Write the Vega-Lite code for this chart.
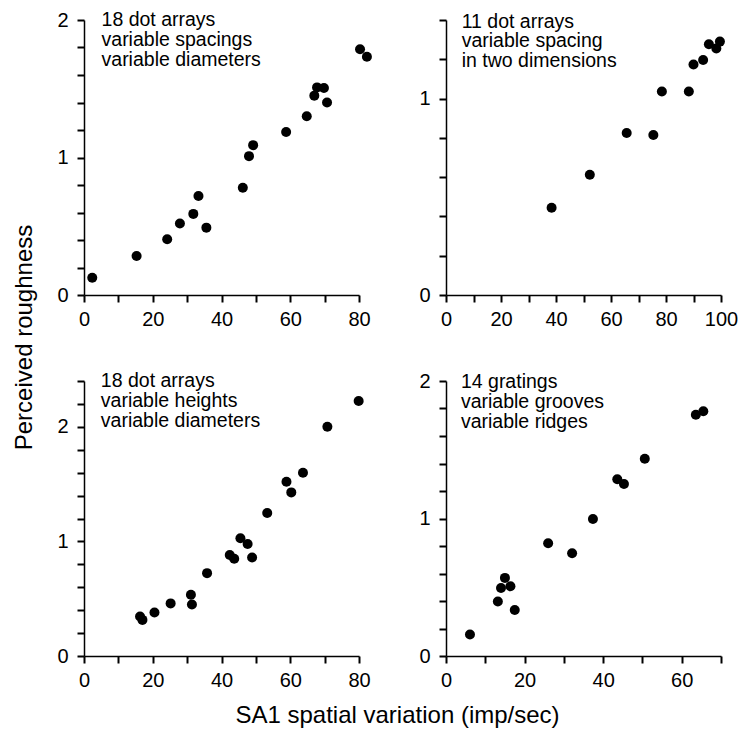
{
  "$schema": "https://vega.github.io/schema/vega-lite/v6.json",
  "background": "white",
  "padding": {"left": 12, "top": 10, "right": 5, "bottom": 5},
  "config": {
    "view": {"stroke": null},
    "font": "Liberation Sans",
    "axis": {
      "domainColor": "black", "domainWidth": 1.5, "ticks": true, "tickColor": "#000000", "tickOpacity": 1, "tickWidth": 2, "tickSize": 7, "zindex": 1,
      "labelFont": "Liberation Sans", "labelFontSize": 20, "labelColor": "black",
      "grid": false, "labelOverlap": false, "labelFlush": false, "labelPadding": 7,
      "titleFont": "Liberation Sans", "titleFontSize": 24, "titleFontWeight": "normal", "titleColor": "black"
    },
    "axisY": {"labelPadding": 9}
  },
  "datasets": {
    "pts": [
      {"panel": 1, "x": 2.4, "y": 0.126}, {"panel": 1, "x": 15.3, "y": 0.284}, {"panel": 1, "x": 24.2, "y": 0.405},
      {"panel": 1, "x": 27.9, "y": 0.52}, {"panel": 1, "x": 31.8, "y": 0.59}, {"panel": 1, "x": 33.3, "y": 0.72},
      {"panel": 1, "x": 35.6, "y": 0.49}, {"panel": 1, "x": 46.2, "y": 0.78}, {"panel": 1, "x": 48.0, "y": 1.01},
      {"panel": 1, "x": 49.2, "y": 1.09}, {"panel": 1, "x": 58.8, "y": 1.185}, {"panel": 1, "x": 64.8, "y": 1.3},
      {"panel": 1, "x": 67.0, "y": 1.45}, {"panel": 1, "x": 67.8, "y": 1.51}, {"panel": 1, "x": 69.8, "y": 1.505},
      {"panel": 1, "x": 70.7, "y": 1.4}, {"panel": 1, "x": 80.3, "y": 1.787}, {"panel": 1, "x": 82.3, "y": 1.733},
      {"panel": 2, "x": 38.4, "y": 0.444}, {"panel": 2, "x": 52.3, "y": 0.612}, {"panel": 2, "x": 65.7, "y": 0.825},
      {"panel": 2, "x": 75.4, "y": 0.815}, {"panel": 2, "x": 78.5, "y": 1.036}, {"panel": 2, "x": 88.3, "y": 1.036},
      {"panel": 2, "x": 90.0, "y": 1.173}, {"panel": 2, "x": 93.5, "y": 1.196}, {"panel": 2, "x": 95.6, "y": 1.277},
      {"panel": 2, "x": 98.3, "y": 1.255}, {"panel": 2, "x": 99.6, "y": 1.29},
      {"panel": 3, "x": 16.3, "y": 0.345}, {"panel": 3, "x": 17.0, "y": 0.315}, {"panel": 3, "x": 20.5, "y": 0.38},
      {"panel": 3, "x": 25.2, "y": 0.459}, {"panel": 3, "x": 31.1, "y": 0.534}, {"panel": 3, "x": 31.4, "y": 0.45},
      {"panel": 3, "x": 35.8, "y": 0.723}, {"panel": 3, "x": 42.4, "y": 0.882}, {"panel": 3, "x": 43.7, "y": 0.848},
      {"panel": 3, "x": 45.5, "y": 1.028}, {"panel": 3, "x": 47.6, "y": 0.978}, {"panel": 3, "x": 48.9, "y": 0.859},
      {"panel": 3, "x": 53.3, "y": 1.248}, {"panel": 3, "x": 58.9, "y": 1.521}, {"panel": 3, "x": 60.3, "y": 1.428},
      {"panel": 3, "x": 63.7, "y": 1.599}, {"panel": 3, "x": 70.8, "y": 2.0}, {"panel": 3, "x": 79.9, "y": 2.226},
      {"panel": 4, "x": 6.1, "y": 0.157}, {"panel": 4, "x": 13.2, "y": 0.397}, {"panel": 4, "x": 14.0, "y": 0.494},
      {"panel": 4, "x": 15.0, "y": 0.568}, {"panel": 4, "x": 16.4, "y": 0.507}, {"panel": 4, "x": 17.5, "y": 0.335},
      {"panel": 4, "x": 26.0, "y": 0.82}, {"panel": 4, "x": 32.1, "y": 0.747}, {"panel": 4, "x": 37.4, "y": 0.996},
      {"panel": 4, "x": 43.6, "y": 1.285}, {"panel": 4, "x": 45.3, "y": 1.251}, {"panel": 4, "x": 50.6, "y": 1.435},
      {"panel": 4, "x": 63.6, "y": 1.755}, {"panel": 4, "x": 65.5, "y": 1.78}
    ],
    "notes": [
      {"panel": 1, "x": 5.1, "y": 1.953, "label": "18 dot arrays\nvariable spacings\nvariable diameters"},
      {"panel": 2, "x": 5.7, "y": 1.361, "label": "11 dot arrays\nvariable spacing\nin two dimensions"},
      {"panel": 3, "x": 4.9, "y": 2.345, "label": "18 dot arrays\nvariable heights\nvariable diameters"},
      {"panel": 4, "x": 3.8, "y": 1.947, "label": "14 gratings\nvariable grooves\nvariable ridges"}
    ]
  },
  "columns": 2,
  "spacing": {"row": 86, "column": 87},
  "bounds": "flush",
  "concat": [
    {
      "width": 275, "height": 275,
      "resolve": {"axis": {"x": "independent", "y": "independent"}},
      "layer": [
        {
          "data": {"name": "pts"},
          "transform": [{"filter": "datum.panel == 1"}],
          "mark": {"type": "circle", "size": 100, "color": "black", "opacity": 1, "clip": false},
          "encoding": {
            "x": {"field": "x", "type": "quantitative", "scale": {"domain": [0, 80], "nice": false},
              "axis": {"title": null, "values": [0, 10, 20, 30, 40, 50, 60, 70, 80], "labelExpr": "datum.value % 20 === 0 ? '' + datum.value : ''",
                "ticks": true, "tickColor": "#000000", "tickWidth": 2, "tickSize": 7}},
            "y": {"field": "y", "type": "quantitative", "scale": {"domain": [0, 2], "nice": false},
              "axis": {"values": [0, 0.2, 0.4, 0.6, 0.8, 1, 1.2, 1.4, 1.6, 1.8, 2], "labelExpr": "datum.value % 1 === 0 ? '' + datum.value : ''",
                "ticks": true, "tickColor": "#000000", "tickWidth": 2, "tickSize": 7,
                "title": "Perceived roughness", "titleAngle": -90, "titleAlign": "center", "titleBaseline": "bottom", "titleX": -48, "titleY": 317}}
          }
        },
        {
          "data": {"name": "notes"},
          "transform": [{"filter": "datum.panel == 1"}],
          "mark": {"type": "text", "align": "left", "baseline": "alphabetic", "lineBreak": "\n", "lineHeight": 19.7, "fontSize": 19.5, "font": "Liberation Sans", "color": "black"},
          "encoding": {"x": {"field": "x", "type": "quantitative", "axis": null}, "y": {"field": "y", "type": "quantitative", "axis": null}, "text": {"field": "label"}}
        }
      ]
    },
    {
      "width": 275, "height": 275,
      "resolve": {"axis": {"x": "independent", "y": "independent"}},
      "layer": [
        {
          "data": {"name": "pts"},
          "transform": [{"filter": "datum.panel == 2"}],
          "mark": {"type": "circle", "size": 100, "color": "black", "opacity": 1, "clip": false},
          "encoding": {
            "x": {"field": "x", "type": "quantitative", "scale": {"domain": [0, 100], "nice": false},
              "axis": {"title": null, "values": [0, 10, 20, 30, 40, 50, 60, 70, 80, 90, 100], "labelExpr": "datum.value % 20 === 0 ? '' + datum.value : ''",
                "ticks": true, "tickColor": "#000000", "tickWidth": 2, "tickSize": 7}},
            "y": {"field": "y", "type": "quantitative", "scale": {"domain": [0, 1.4], "nice": false},
              "axis": {"title": null, "values": [0, 0.2, 0.4, 0.6, 0.8, 1, 1.2, 1.4], "labelExpr": "datum.value % 1 === 0 ? '' + datum.value : ''",
                "ticks": true, "tickColor": "#000000", "tickWidth": 2, "tickSize": 7}}
          }
        },
        {
          "data": {"name": "notes"},
          "transform": [{"filter": "datum.panel == 2"}],
          "mark": {"type": "text", "align": "left", "baseline": "alphabetic", "lineBreak": "\n", "lineHeight": 19.7, "fontSize": 19.5, "font": "Liberation Sans", "color": "black"},
          "encoding": {"x": {"field": "x", "type": "quantitative", "axis": null}, "y": {"field": "y", "type": "quantitative", "axis": null}, "text": {"field": "label"}}
        }
      ]
    },
    {
      "width": 275, "height": 275,
      "resolve": {"axis": {"x": "independent", "y": "independent"}},
      "layer": [
        {
          "data": {"name": "pts"},
          "transform": [{"filter": "datum.panel == 3"}],
          "mark": {"type": "circle", "size": 100, "color": "black", "opacity": 1, "clip": false},
          "encoding": {
            "x": {"field": "x", "type": "quantitative", "scale": {"domain": [0, 80], "nice": false},
              "axis": {"values": [0, 10, 20, 30, 40, 50, 60, 70, 80], "labelExpr": "datum.value % 20 === 0 ? '' + datum.value : ''",
                "ticks": true, "tickColor": "#000000", "tickWidth": 2, "tickSize": 7,
                "title": "SA1 spatial variation (imp/sec)", "titleAngle": 0, "titleAlign": "center", "titleBaseline": "alphabetic", "titleX": 313, "titleY": 66}},
            "y": {"field": "y", "type": "quantitative", "scale": {"domain": [0, 2.4], "nice": false},
              "axis": {"title": null, "values": [0, 0.2, 0.4, 0.6, 0.8, 1, 1.2, 1.4, 1.6, 1.8, 2, 2.2, 2.4], "labelExpr": "datum.value % 1 === 0 ? '' + datum.value : ''",
                "ticks": true, "tickColor": "#000000", "tickWidth": 2, "tickSize": 7}}
          }
        },
        {
          "data": {"name": "notes"},
          "transform": [{"filter": "datum.panel == 3"}],
          "mark": {"type": "text", "align": "left", "baseline": "alphabetic", "lineBreak": "\n", "lineHeight": 19.7, "fontSize": 19.5, "font": "Liberation Sans", "color": "black"},
          "encoding": {"x": {"field": "x", "type": "quantitative", "axis": null}, "y": {"field": "y", "type": "quantitative", "axis": null}, "text": {"field": "label"}}
        }
      ]
    },
    {
      "width": 275, "height": 275,
      "resolve": {"axis": {"x": "independent", "y": "independent"}},
      "layer": [
        {
          "data": {"name": "pts"},
          "transform": [{"filter": "datum.panel == 4"}],
          "mark": {"type": "circle", "size": 100, "color": "black", "opacity": 1, "clip": false},
          "encoding": {
            "x": {"field": "x", "type": "quantitative", "scale": {"domain": [0, 70], "nice": false},
              "axis": {"title": null, "values": [0, 10, 20, 30, 40, 50, 60, 70], "labelExpr": "datum.value % 20 === 0 ? '' + datum.value : ''",
                "ticks": true, "tickColor": "#000000", "tickWidth": 2, "tickSize": 7}},
            "y": {"field": "y", "type": "quantitative", "scale": {"domain": [0, 2], "nice": false},
              "axis": {"title": null, "values": [0, 0.2, 0.4, 0.6, 0.8, 1, 1.2, 1.4, 1.6, 1.8, 2], "labelExpr": "datum.value % 1 === 0 ? '' + datum.value : ''",
                "ticks": true, "tickColor": "#000000", "tickWidth": 2, "tickSize": 7}}
          }
        },
        {
          "data": {"name": "notes"},
          "transform": [{"filter": "datum.panel == 4"}],
          "mark": {"type": "text", "align": "left", "baseline": "alphabetic", "lineBreak": "\n", "lineHeight": 19.7, "fontSize": 19.5, "font": "Liberation Sans", "color": "black"},
          "encoding": {"x": {"field": "x", "type": "quantitative", "axis": null}, "y": {"field": "y", "type": "quantitative", "axis": null}, "text": {"field": "label"}}
        }
      ]
    }
  ]
}
